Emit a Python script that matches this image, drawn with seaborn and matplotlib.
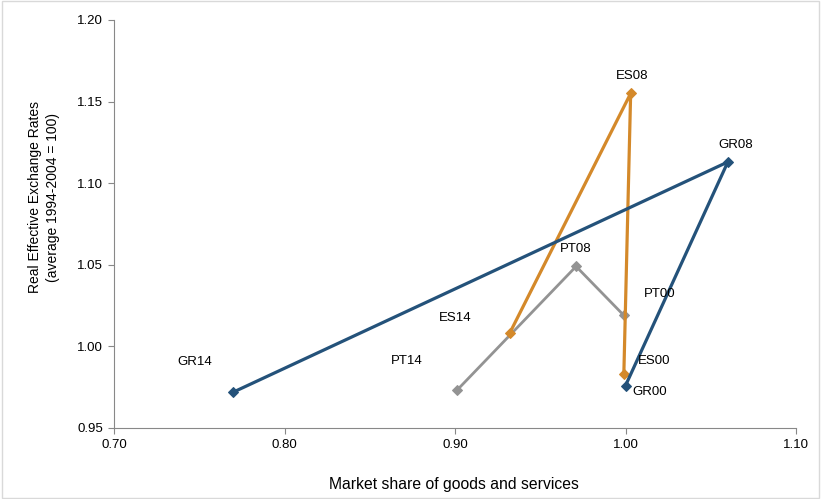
import matplotlib
matplotlib.use("Agg")
import matplotlib.pyplot as plt
import seaborn as sns
import pandas as pd
from matplotlib.patches import Rectangle

sns.set_theme(style="white")
plt.rcParams['font.family'] = ['Liberation Sans', 'DejaVu Sans']

# Data (order: 2000 -> 2008 -> 2014)
countries = ["PT", "ES", "GR"]
labels = {
    "PT": ["PT00", "PT08", "PT14"],
    "ES": ["ES00", "ES08", "ES14"],
    "GR": ["GR00", "GR08", "GR14"],
}
market_share = {
    "PT": [0.999, 0.971, 0.901],
    "ES": [0.999, 1.003, 0.932],
    "GR": [1.000, 1.060, 0.770],
}
reer = {
    "PT": [1.019, 1.049, 0.973],
    "ES": [0.983, 1.155, 1.008],
    "GR": [0.976, 1.113, 0.972],
}
colors = {"PT": "#939393", "ES": "#D4892A", "GR": "#24527A"}
widths = {"PT": 2.0, "ES": 2.3, "GR": 2.3}
# label offsets in pixels (style only)
offsets = {
    "PT00": (36, 21), "PT08": (0, 17), "PT14": (-50, 29),
    "ES00": (30, 13), "ES08": (1, 17), "ES14": (-54, 15),
    "GR00": (24, -6), "GR08": (8, 17), "GR14": (-39, 30),
}

fig = plt.figure(figsize=(8.21, 4.99), dpi=100)
ax = fig.add_axes([0.1389, 0.1423, 0.9696 - 0.1389, 0.96 - 0.1423])

for c in countries:
    df = pd.DataFrame({"x": market_share[c], "y": reer[c]})
    sns.lineplot(data=df, x="x", y="y", sort=False, estimator=None, ax=ax,
                 color=colors[c], lw=widths[c], marker="D", markersize=5,
                 markeredgecolor=colors[c])
    for lab, xv, yv in zip(labels[c], market_share[c], reer[c]):
        dx, dy = offsets[lab]
        ax.annotate(lab, (xv, yv), xytext=(dx, dy), textcoords="offset pixels",
                    ha="center", va="center", fontsize=9.5, color="#000000")

ax.set_xlim(0.70, 1.10)
ax.set_ylim(0.95, 1.20)
ax.set_xticks([0.70, 0.80, 0.90, 1.00, 1.10])
ax.set_yticks([0.95, 1.00, 1.05, 1.10, 1.15, 1.20])
ax.set_xticklabels([f"{v:.2f}" for v in [0.70, 0.80, 0.90, 1.00, 1.10]])
ax.set_yticklabels([f"{v:.2f}" for v in [0.95, 1.00, 1.05, 1.10, 1.15, 1.20]])
ax.tick_params(axis="both", which="major", direction="out", length=4, width=0.8,
               color="#888888", labelsize=9.5, labelcolor="#000000", pad=4,
               bottom=True, left=True)
for s in ["top", "right"]:
    ax.spines[s].set_visible(False)
for s in ["left", "bottom"]:
    ax.spines[s].set_color("#888888")
    ax.spines[s].set_linewidth(0.8)

ax.set_xlabel("")
ax.set_ylabel("")
fig.text(454 / 821, 1 - 485 / 499, "Market share of goods and services",
         ha="center", va="center", fontsize=11.3, color="#000000")
fig.text(44 / 821, 1 - 197 / 499, "Real Effective Exchange Rates\n(average 1994-2004 = 100)",
         ha="center", va="center", rotation=90, fontsize=10, linespacing=1.45,
         multialignment="center", color="#000000")

fig.patches.append(Rectangle((0.002, 0.002), 0.996, 0.996, transform=fig.transFigure,
                             fill=False, edgecolor="#D9D9D9", lw=1))

fig.savefig("out.png", dpi=100)
